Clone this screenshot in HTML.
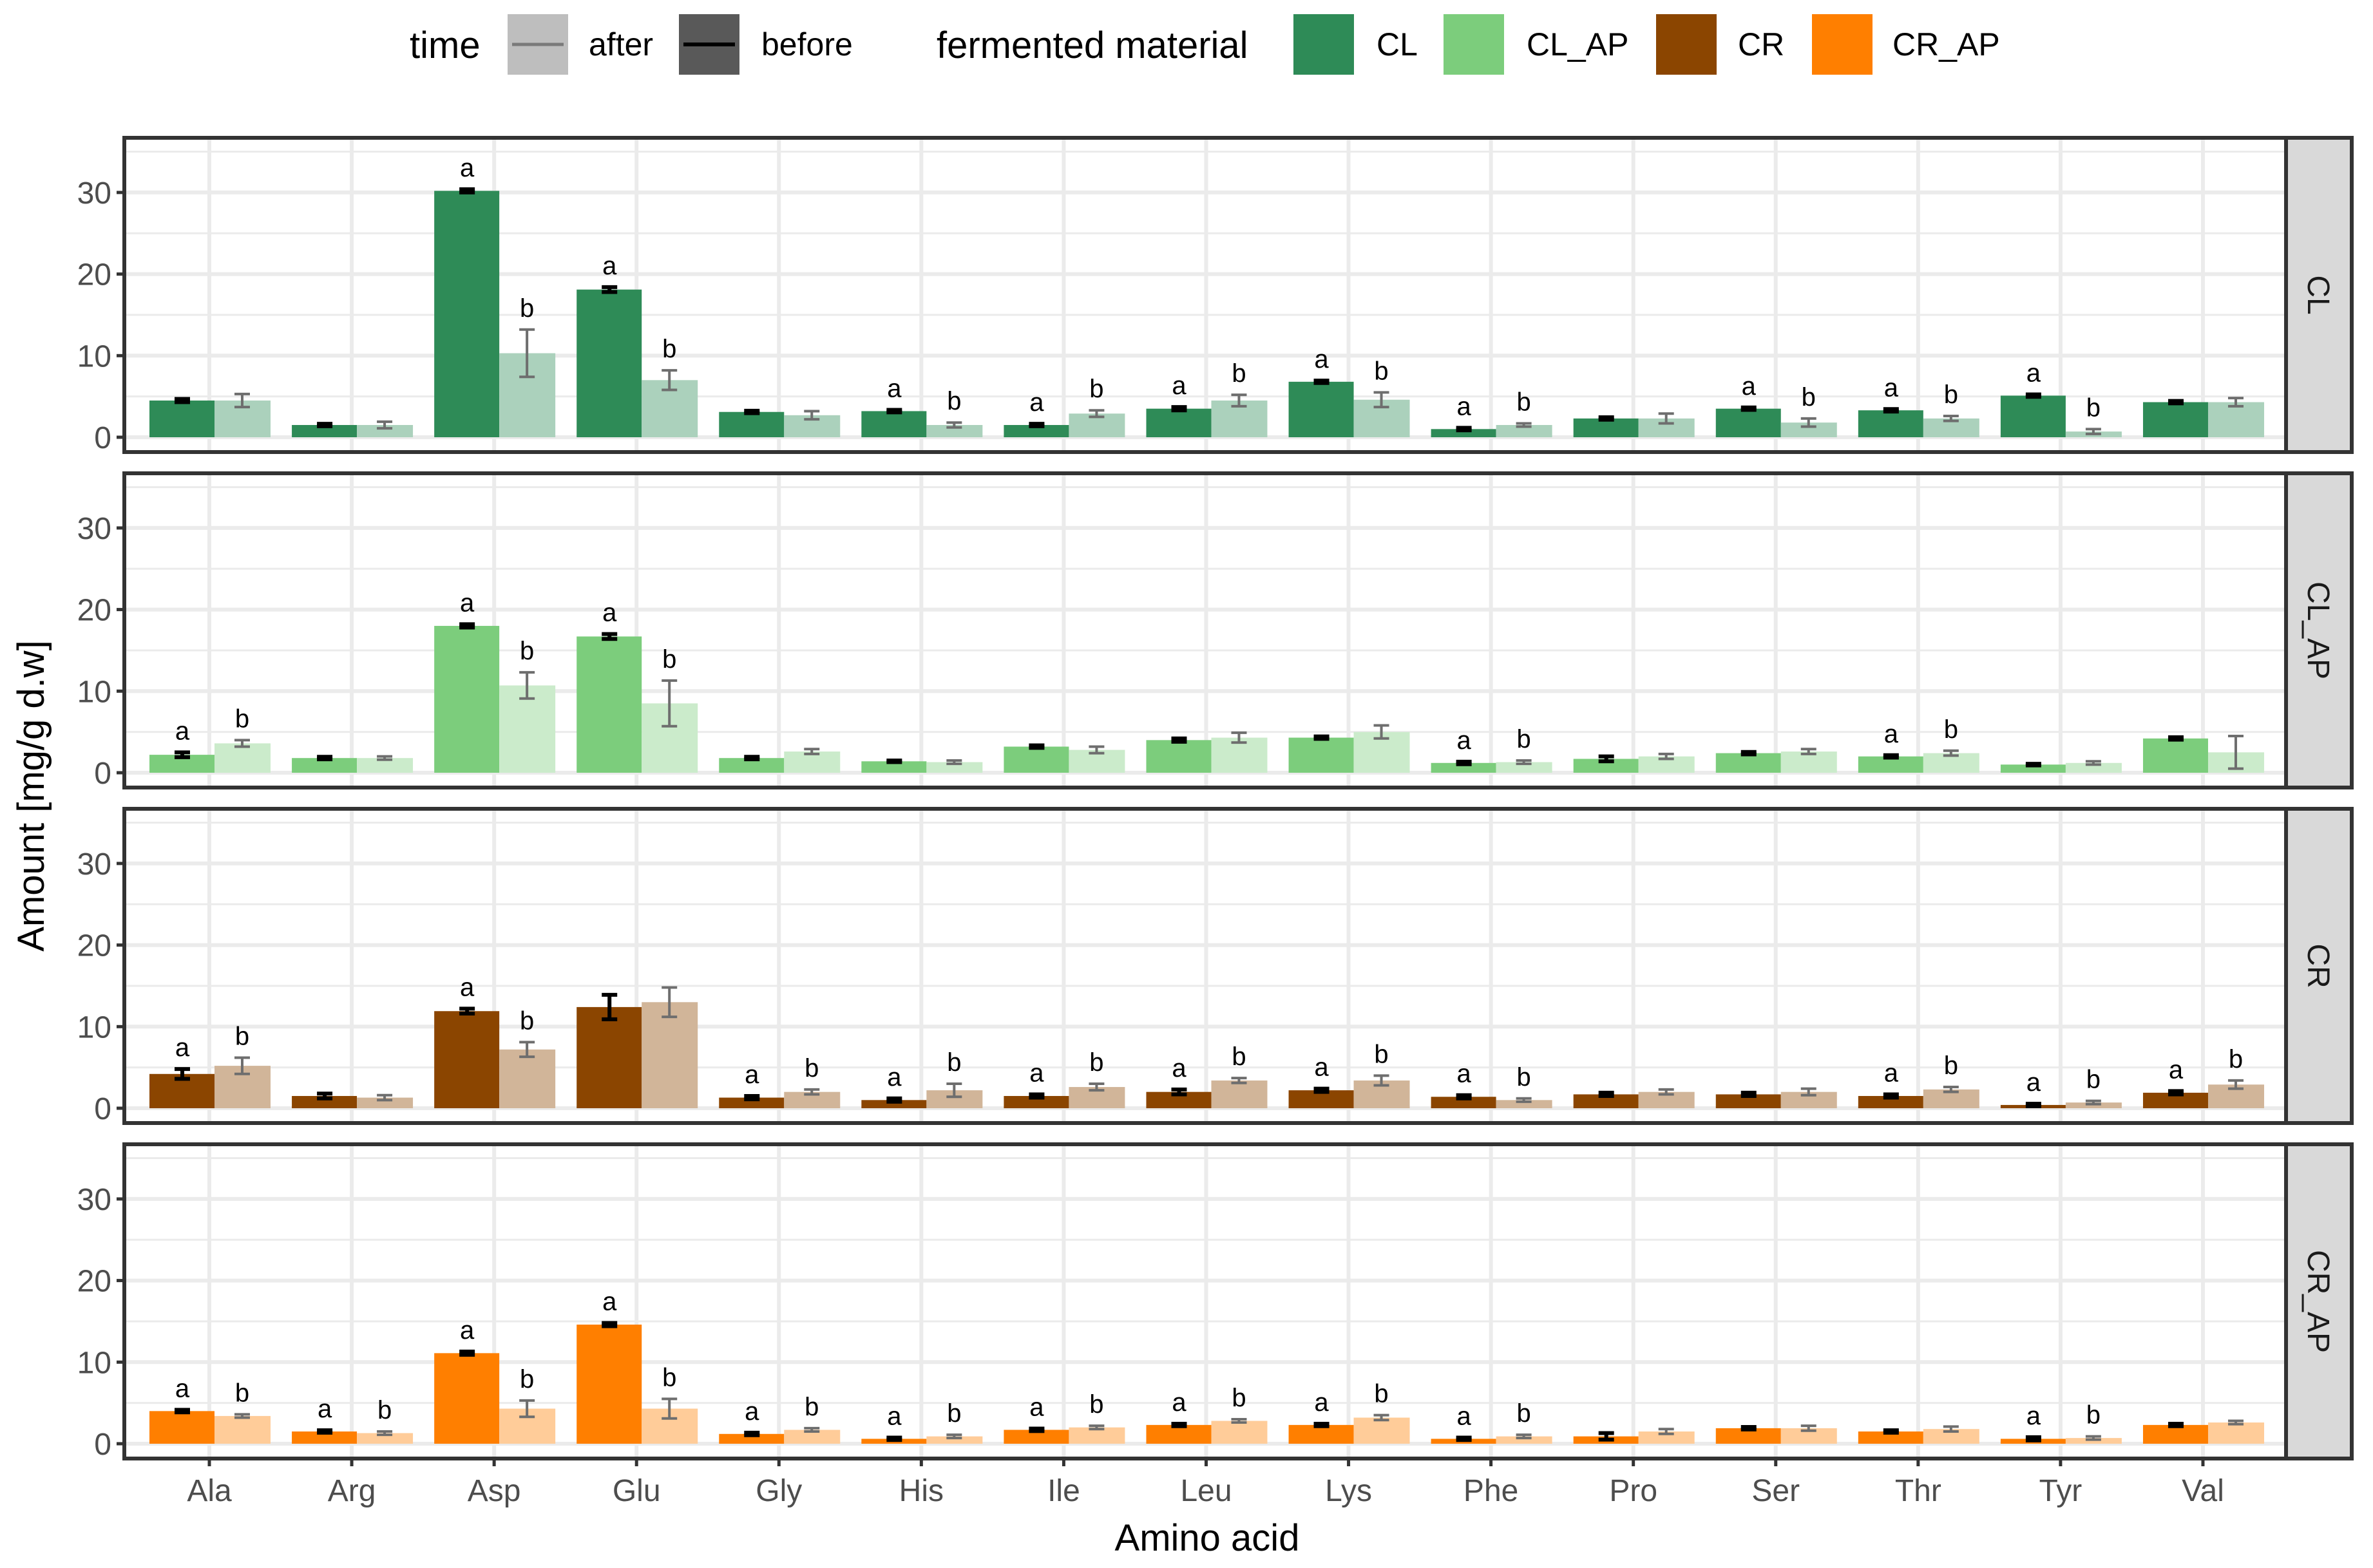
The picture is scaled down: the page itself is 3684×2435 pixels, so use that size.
<!DOCTYPE html>
<html><head><meta charset="utf-8">
<style>
html,body{margin:0;padding:0;background:#fff;}
svg text{font-family:"Liberation Sans",Arial,sans-serif;}
</style></head>
<body>
<svg id="chart" width="3684" height="2430" viewBox="0 0 3684 2430" xmlns="http://www.w3.org/2000/svg">
<g id="legend">
  <text x="636" y="90" font-size="58" fill="#000">time</text>
  <rect x="788" y="22" width="94" height="94" fill="#bebebe"/>
  <line x1="795" y1="69" x2="875" y2="69" stroke="#7a7a7a" stroke-width="5"/>
  <text x="914" y="86" font-size="50" fill="#000">after</text>
  <rect x="1054" y="22" width="94" height="94" fill="#595959"/>
  <line x1="1061" y1="69" x2="1141" y2="69" stroke="#000" stroke-width="6"/>
  <text x="1182" y="86" font-size="50" fill="#000">before</text>
  <text x="1454" y="90" font-size="58" fill="#000">fermented material</text>
  <rect x="2008" y="22" width="94" height="94" fill="#2e8b57"/>
  <text x="2137" y="86" font-size="50" fill="#000">CL</text>
  <rect x="2241" y="22" width="94" height="94" fill="#7ccd7c"/>
  <text x="2370" y="86" font-size="50" fill="#000">CL_AP</text>
  <rect x="2571" y="22" width="94" height="94" fill="#8b4500"/>
  <text x="2698" y="86" font-size="50" fill="#000">CR</text>
  <rect x="2813" y="22" width="94" height="94" fill="#ff7f00"/>
  <text x="2938" y="86" font-size="50" fill="#000">CR_AP</text>
</g>
<text x="0" y="0" transform="translate(68,1236) rotate(-90)" text-anchor="middle" font-size="58" fill="#000">Amount [mg/g d.w]</text>
<text x="1874" y="2408" text-anchor="middle" font-size="58" fill="#000">Amino acid</text>
<g id="panels"></g>
</svg>
<script>
const categories = ["Ala","Arg","Asp","Glu","Gly","His","Ile","Leu","Lys","Phe","Pro","Ser","Thr","Tyr","Val"];
const panelNames = ["CL","CL_AP","CR","CR_AP"];
const yTicks = [0,10,20,30];
const yMinor = [5,15,25,35];
const beforeCL   = [4.5,1.5,30.2,18.1,3.1,3.2,1.5,3.5,6.8,1.0,2.3,3.5,3.3,5.1,4.3];
const afterCL    = [4.5,1.5,10.3,7.0,2.7,1.5,2.9,4.5,4.6,1.5,2.3,1.8,2.3,0.7,4.3];
const beforeErrCL= [0.2,0.15,0.2,0.3,0.15,0.15,0.15,0.2,0.15,0.15,0.15,0.15,0.15,0.15,0.15];
const afterErrCL = [0.8,0.4,2.9,1.2,0.5,0.3,0.4,0.7,0.9,0.2,0.6,0.5,0.3,0.3,0.5];
const lettersCL  = [0,0,1,1,0,1,1,1,1,1,0,1,1,1,0];
const beforeCLAP   = [2.2,1.8,18.0,16.7,1.8,1.4,3.2,4.0,4.3,1.2,1.7,2.4,2.0,1.0,4.2];
const afterCLAP    = [3.6,1.8,10.7,8.5,2.6,1.3,2.8,4.3,5.0,1.3,2.0,2.6,2.4,1.2,2.5];
const beforeErrCLAP= [0.3,0.15,0.2,0.3,0.15,0.1,0.15,0.2,0.15,0.15,0.3,0.15,0.15,0.1,0.15];
const afterErrCLAP = [0.4,0.2,1.6,2.8,0.3,0.2,0.4,0.6,0.8,0.2,0.3,0.3,0.3,0.2,2.0];
const lettersCLAP  = [1,0,1,1,0,0,0,0,0,1,0,0,1,0,0];
const beforeCR   = [4.2,1.5,11.9,12.4,1.3,1.0,1.5,2.0,2.2,1.4,1.7,1.7,1.5,0.4,1.9];
const afterCR    = [5.2,1.3,7.2,13.0,2.0,2.2,2.6,3.4,3.4,1.0,2.0,2.0,2.3,0.7,2.9];
const beforeErrCR= [0.6,0.3,0.3,1.5,0.2,0.2,0.2,0.3,0.2,0.2,0.2,0.2,0.2,0.15,0.2];
const afterErrCR = [1.0,0.3,0.9,1.8,0.3,0.8,0.4,0.3,0.6,0.2,0.3,0.4,0.3,0.2,0.5];
const lettersCR  = [1,0,1,0,1,1,1,1,1,1,0,0,1,1,1];
const beforeCRAP   = [4.0,1.5,11.1,14.6,1.2,0.6,1.7,2.3,2.3,0.6,0.9,1.9,1.5,0.6,2.3];
const afterCRAP    = [3.4,1.3,4.3,4.3,1.7,0.9,2.0,2.8,3.2,0.9,1.5,1.9,1.8,0.7,2.6];
const beforeErrCRAP= [0.15,0.15,0.2,0.2,0.15,0.15,0.15,0.15,0.15,0.15,0.4,0.15,0.15,0.2,0.15];
const afterErrCRAP = [0.2,0.2,1.0,1.2,0.2,0.2,0.2,0.2,0.3,0.2,0.3,0.3,0.3,0.2,0.2];
const lettersCRAP  = [1,1,1,1,1,1,1,1,1,1,0,0,0,1,0];

const series = [
  {b:beforeCL,a:afterCL,be:beforeErrCL,ae:afterErrCL,l:lettersCL,col:"#2e8b57",light:"#abd1bc"},
  {b:beforeCLAP,a:afterCLAP,be:beforeErrCLAP,ae:afterErrCLAP,l:lettersCLAP,col:"#7ccd7c",light:"#cbebcb"},
  {b:beforeCR,a:afterCR,be:beforeErrCR,ae:afterErrCR,l:lettersCR,col:"#8b4500",light:"#d1b599"},
  {b:beforeCRAP,a:afterCRAP,be:beforeErrCRAP,ae:afterErrCRAP,l:lettersCRAP,col:"#ff7f00",light:"#ffcc99"}
];
const NS="http://www.w3.org/2000/svg";
const root=document.getElementById("panels");
const PL=193, PR=3549, PH=488, PTOPS=[214,735,1256,1777];
function xScale(i){return 325+i*221.07;}
function mk(tag,attrs,parent){const e=document.createElementNS(NS,tag);for(const k in attrs)e.setAttribute(k,attrs[k]);parent.appendChild(e);return e;}
series.forEach((s,p)=>{
  const top=PTOPS[p];
  const yScale=v=>top+465-v*12.67;
  const g=mk("g",{},root);
  
  
  mk("rect",{x:PL,y:top,width:PR-PL,height:PH,fill:"#fff"},g);
  yMinor.forEach(t=>{const l=mk("line",{x1:PL,x2:PR,y1:yScale(t),y2:yScale(t),stroke:"#ebebeb","stroke-width":3},g);
    
    });
  yTicks.forEach(t=>{const l=mk("line",{x1:PL,x2:PR,y1:yScale(t),y2:yScale(t),stroke:"#ebebeb","stroke-width":6},g);
    
    
    const tk=mk("line",{x1:PL-12,x2:PL,y1:yScale(t),y2:yScale(t),stroke:"#333","stroke-width":5},g);
    
    
    const tx=mk("text",{x:PL-20,y:yScale(t)+17,"text-anchor":"end","font-size":48,fill:"#4d4d4d"},g);
    tx.textContent=t;
    
    });
  categories.forEach((c,i)=>{const x=xScale(i);const l=mk("line",{x1:x,x2:x,y1:top,y2:top+PH,stroke:"#ebebeb","stroke-width":6},g);
    
    });
  categories.forEach((c,i)=>{
    const x=xScale(i);
    const y0=yScale(0);
    const rb=mk("rect",{x:x-93,y:yScale(s.b[i]),width:101,height:y0-yScale(s.b[i]),fill:s.col},g);
    
    
    const ra=mk("rect",{x:x+8,y:yScale(s.a[i]),width:87,height:y0-yScale(s.a[i]),fill:s.light},g);
    
    
    const bx=x-42, ax=x+51;
    [[bx,s.b[i],s.be[i],"#000",6],[ax,s.a[i],s.ae[i],"#6e6e6e",4]].forEach(([cx,v,e,col,w],k)=>{
      const eg=mk("g",{stroke:col,"stroke-width":w},g);
      
      
      const yt=yScale(v+e), yb=yScale(v-e);
      mk("line",{x1:cx,x2:cx,y1:yt,y2:yb},eg);
      mk("line",{x1:cx-12,x2:cx+12,y1:yt,y2:yt},eg);
      mk("line",{x1:cx-12,x2:cx+12,y1:yb,y2:yb},eg);
      if(s.l[i]){
        const t=mk("text",{x:cx,y:yt-20,"text-anchor":"middle","font-size":40,fill:"#000"},g);
        t.textContent=k==0?"a":"b";
        
        
      }
    });
  });
  const bd=mk("rect",{x:PL,y:top,width:PR-PL,height:PH,fill:"none",stroke:"#333","stroke-width":6},g);
  
  
  const st=mk("rect",{x:PR,y:top,width:102,height:PH,fill:"#d9d9d9",stroke:"#333","stroke-width":6},g);
  
  
  const stt=mk("text",{x:0,y:0,transform:`translate(${PR+34},${top+PH/2}) rotate(90)`,"text-anchor":"middle","font-size":48,fill:"#1a1a1a"},g);
  stt.textContent=panelNames[p];
  
  
});
const lastBottom=PTOPS[3]+PH;
categories.forEach((c,i)=>{
  const x=xScale(i);
  const tk=mk("line",{x1:x,x2:x,y1:lastBottom,y2:lastBottom+12,stroke:"#333","stroke-width":5},root);
  
  
  const t=mk("text",{x:x,y:lastBottom+66,"text-anchor":"middle","font-size":48,fill:"#4d4d4d"},root);
  t.textContent=c;
  
  
});
</script>
</body></html>
